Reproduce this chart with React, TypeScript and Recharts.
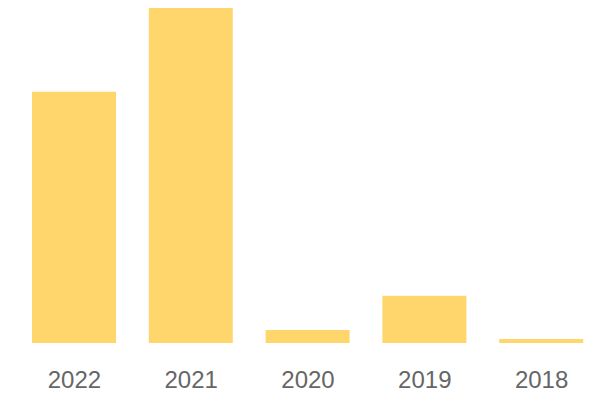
import React from "react";
import { BarChart, Bar, XAxis, YAxis } from "recharts";

const years = ["2022", "2021", "2020", "2019", "2018"];
const values = [750, 1000, 39, 141, 12];

const data = years.map((year, i) => ({ year, value: values[i] }));

export default function App() {
  return (
    <BarChart
      width={600}
      height={392}
      data={data}
      margin={{ top: 0, right: 8, bottom: 0, left: 8 }}
      barCategoryGap="14%"
    >
      <XAxis
        dataKey="year"
        axisLine={false}
        tickLine={false}
        height={57}
        tickMargin={22}
        interval={0}
        tick={{ fill: "#666666", fontSize: 24, fontFamily: "Liberation Sans, Arial, sans-serif" }}
      />
      <YAxis hide domain={[0, "dataMax"]} />
      <Bar dataKey="value" fill="#FFD66B" barSize={84} isAnimationActive={false} />
    </BarChart>
  );
}
